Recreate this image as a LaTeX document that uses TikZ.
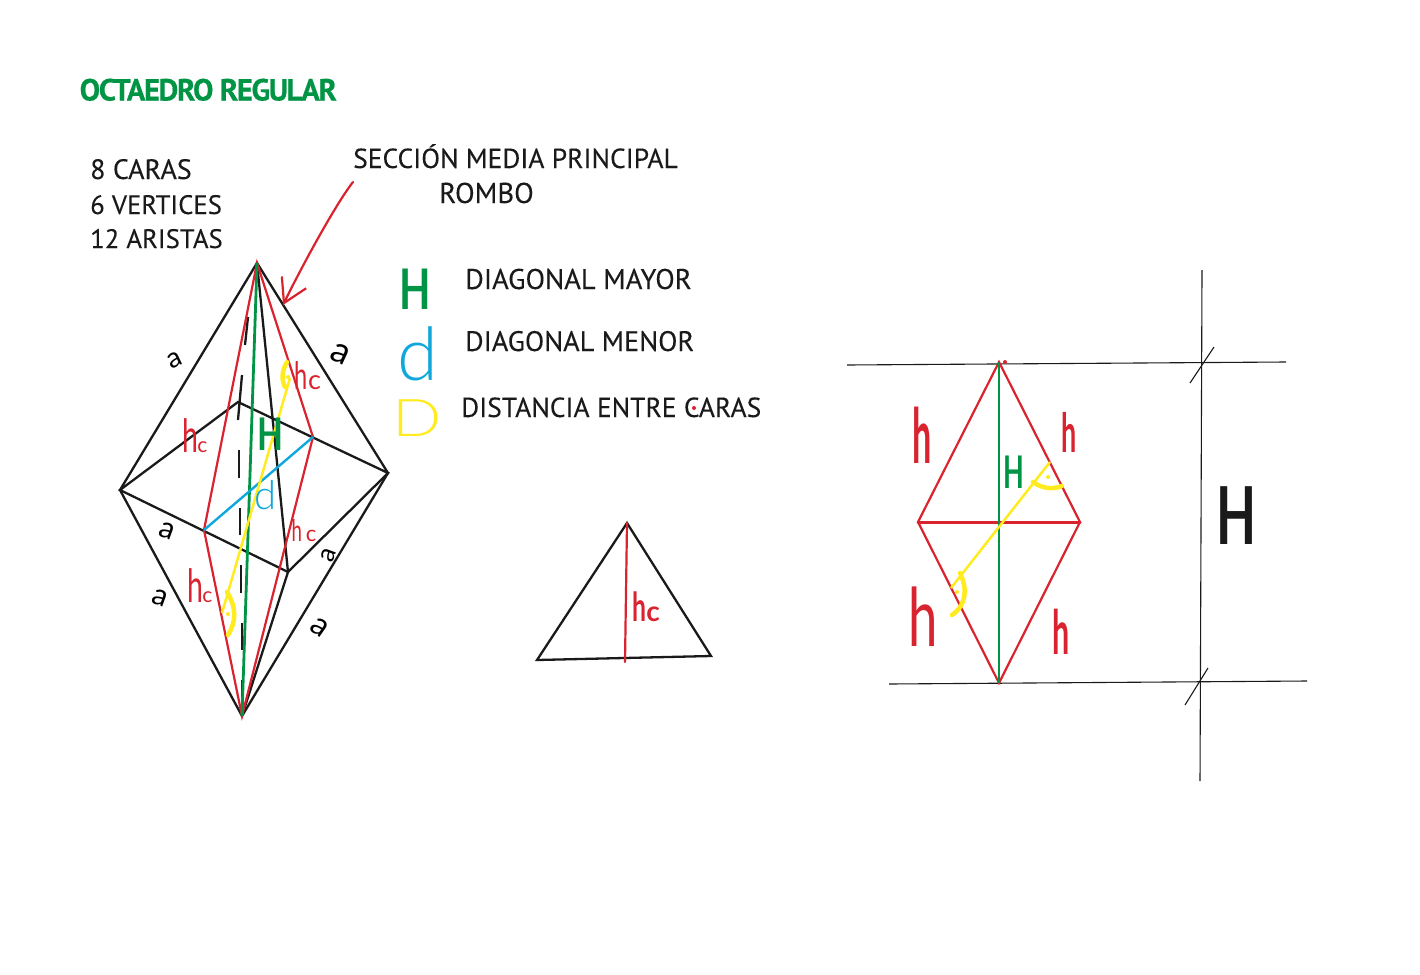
\documentclass[tikz,border=0pt]{standalone}
\usepackage{fontspec}
\usepackage{graphicx}
\setmainfont{PT Sans}
\newfontfamily\labfont[FakeBold=0.15]{PT Sans}
\newfontfamily\titlefont[UprightFont={* Bold},FakeBold=0.4,LetterSpace=-4.5]{PT Sans}
\newfontfamily\handfont{Lato}
\newfontfamily\lightfont[UprightFont={* Light}]{Lato}
\newcommand{\narrowed}[2]{\scalebox{#1}[1]{#2}}
\newcommand{\hcpair}[3]{\narrowed{0.62}{\fontsize{#1}{#1}\selectfont h}\kern#3pt{\fontsize{#2}{#2}\selectfont c}}
\usetikzlibrary{arrows.meta}
\usetikzlibrary{positioning}
\definecolor{ocred}{HTML}{D9232E}
\definecolor{ocgreen}{HTML}{009444}
\definecolor{ocblue}{HTML}{0FA7DC}
\definecolor{ocyellow}{HTML}{FFEB1E}
\definecolor{ocblack}{HTML}{1A1A1A}

\begin{document}
\begin{tikzpicture}
    [x=1pt, y=-1pt,
     octedge/.style={draw=ocblack, line width=2.3pt, line cap=round},
     hiddenseg/.style={draw=ocblack, line width=2.3pt},
     thinln/.style={draw=ocblack, line width=1.1pt},
     sec/.style={draw=ocred, line width=2.2pt, line cap=round},
     mainh/.style={draw=ocgreen, line width=2.8pt},
     minord/.style={draw=ocblue, line width=2.4pt},
     distln/.style={draw=ocyellow, line width=2.5pt},
     rmark/.style={draw=ocyellow, line width=4.5pt, line cap=round},
     ydot/.style={circle, fill=ocyellow, inner sep=0pt, minimum size=4pt},
     rdot/.style={circle, fill=ocred, inner sep=0pt, minimum size=4pt},
     lab/.style={anchor=base west, inner sep=0pt, text=ocblack, font=\labfont\fontsize{#1}{30}\selectfont},
     hand/.style={inner sep=0pt, font=\handfont\fontsize{#1}{#1}\selectfont},
     handb/.style={inner sep=0pt, font=\handfont\bfseries\fontsize{#1}{#1}\selectfont},
     handl/.style={inner sep=0pt, font=\lightfont\fontsize{#1}{#1}\selectfont}]

    \useasboundingbox (0,0) rectangle (1420,974);

    \coordinate (top) at (257,263);
    \coordinate (bot) at (242,716);
    \coordinate (lft) at (120,490);
    \coordinate (rgt) at (388,473);
    \coordinate (back) at (238,402);
    \coordinate (frt) at (288,572);
    \coordinate (mp) at (313,437);
    \coordinate (mq) at (204,530);

    \draw [hiddenseg] (248,317) -- (245,345);
    \draw [hiddenseg] (242,375) -- (238,420);
    \draw [hiddenseg] (239,450) -- (239,478);
    \draw [hiddenseg] (240,508) -- (240,535);
    \draw [hiddenseg] (241,565) -- (241,593);
    \draw [hiddenseg] (242,623) -- (242,650);
    \draw [hiddenseg] (242,680) -- (242,712);

    \draw [octedge] (top) -- (lft) -- (bot) -- (rgt) -- cycle;
    \draw [octedge] (lft) -- (back) -- (rgt) -- (frt) -- cycle;
    \draw [octedge] (top) -- (frt) -- (bot);

    \draw [sec] (top) -- (mp) -- (bot) -- (mq) -- cycle;
    \draw [mainh] (top) -- (bot);
    \draw [minord] (mq) -- (mp);
    \draw [distln] (290,378) -- (222,613);
    \draw [rmark] (287,362) .. controls (281,372) and (282,381) .. (285,387);
    \draw [rmark] (227,592) .. controls (237,608) and (236,622) .. (228,635);
    \node [ydot] (dot1) at (288,377) {};
    \node [ydot] (dot2) at (228,614) {};

    \coordinate (arrowstart) at (353,182);
    \coordinate (arrowend) at (283,305);
    \draw [sec, -{Straight Barb[length=23pt, width=27pt, line width=2.2pt]}] (arrowstart) .. controls (335,205) and (300,270) .. (arrowend);

    \node [hand=28, rotate=25] (a1) at (175,360) {a};
    \node [hand=36, rotate=-25] (a2) at (340,354) {a};
    \node [hand=30, rotate=-20] (a3) at (167,531) {a};
    \node [hand=30, rotate=-20] (a4) at (160,598) {a};
    \node [hand=26, rotate=70] (a5) at (329,555) {a};
    \node [hand=32, rotate=-35] (a6) at (320,627) {a};

    \node [hand=30, text=ocred] (hc1) at (195,436) {\hcpair{46}{21}{-1}};
    \node [hand=30, text=ocred] (hc2) at (308,376) {\hcpair{38}{27}{0}};
    \node [hand=30, text=ocred] (hc3) at (304,531) {\hcpair{30}{22}{4}};
    \node [hand=30, text=ocred] (hc4) at (200,586) {\hcpair{46}{21}{-1}};
    \node [handb=45, text=ocgreen] (hmain) at (270,434) {\narrowed{0.75}{H}};
    \node [handl=40, text=ocblue] (dmin) at (266,495) {d};

    \node [lab=28, text=ocgreen, font=\titlefont\fontsize{30.6}{30}\selectfont] (title) at (79.5,100.5) {OCTAEDRO REGULAR};
    \node [lab=28] (caras) at (90,179) {8 CARAS};
    \node [lab=26.7] (vertices) at (90,214) {6 VERTICES};
    \node [lab=26.7] (aristas) at (90,248) {12 ARISTAS};
    \node [lab=27.5] (seccion) at (353,168) {SECCIÓN MEDIA PRINCIPAL};
    \node [lab=28.7] (rombo) at (439,203) {ROMBO};
    \node [lab=28.5] (mayor) at (465,289) {DIAGONAL MAYOR};
    \node [lab=28.2] (menor) at (465,351) {DIAGONAL MENOR};
    \node [lab=27.5] (distancia) at (461,417) {DISTANCIA ENTRE CARAS};

    \node [handb=56, text=ocgreen] (legh) at (415,289) {\narrowed{0.73}{H}};
    \node [handl=74, text=ocblue] (legd) at (418,354) {d};
    \node [handl=52, text=ocyellow] (legD) at (417,418) {\narrowed{1.25}{D}};

    \coordinate (tria) at (627,523);
    \coordinate (trib) at (537,660);
    \coordinate (tric) at (711,656);
    \coordinate (trih) at (625,662);
    \draw [octedge] (tria) -- (trib) -- (tric) -- cycle;
    \draw [sec] (tria) -- (trih);
    \node [handb=31, text=ocred] (hc5) at (646,607) {\hcpair{40}{28}{0}};

    \coordinate (rt) at (999,362);
    \coordinate (rb) at (999,683);
    \coordinate (rl) at (918,522);
    \coordinate (rr) at (1080,522);

    \coordinate (h1a) at (847,365);
    \coordinate (h1b) at (1286,362);
    \coordinate (h2a) at (889,684);
    \coordinate (h2b) at (1307,681);
    \coordinate (vta) at (1202,270);
    \coordinate (vtb) at (1200,781);
    \draw [thinln] (h1a) -- (h1b);
    \draw [thinln] (h2a) -- (h2b);
    \draw [thinln] (vta) -- (vtb);
    \draw [thinln] (1190,383) -- (1214,347);
    \draw [thinln] (1185,705) -- (1208,668);

    \draw [sec] (rt) -- (rr) -- (rb) -- (rl) -- cycle;
    \draw [sec, line width=3pt] (rl) -- (rr);
    \draw [mainh] (rt) -- (rb);
    \draw [distln] (1050,462) -- (951,588);
    \draw [rmark] (1033,482) .. controls (1041,488) and (1052,490) .. (1062,486);
    \draw [rmark] (960,573) .. controls (968,590) and (966,605) .. (952,615);
    \node [ydot] (dot3) at (1048,477) {};
    \node [ydot] (dot4) at (957,592) {};
    \node [rdot] (reddot) at (1005,362) {};
    \node [rdot] (reddot2) at (694,408) {};

    \node [handb=76, text=ocred] (h1) at (922,435) {\narrowed{0.45}{h}};
    \node [handb=54, text=ocred] (h2) at (1069,432) {\narrowed{0.5}{h}};
    \node [hand=81, text=ocred] (h3) at (923,617) {\narrowed{0.65}{h}};
    \node [handb=61, text=ocred] (h4) at (1061,632) {\narrowed{0.5}{h}};
    \node [handb=45, text=ocgreen] (h5) at (1014,472) {\narrowed{0.6}{H}};
    \node [handb=80, text=ocblack] (h6) at (1237,516) {\narrowed{0.65}{H}};
\end{tikzpicture}
\end{document}
